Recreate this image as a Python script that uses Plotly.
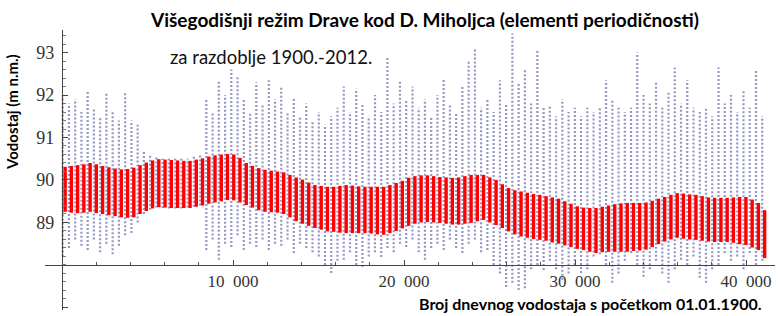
import plotly.graph_objects as go

# ---------------- data ----------------
years = list(range(1900, 2013))  # 113 hydrological years

# periodic element (red band): upper and lower level of the yearly oscillation [m n.m.]
red_top = [
    90.31, 90.33, 90.35, 90.37, 90.40, 90.37, 90.33, 90.30, 90.27, 90.25,
    90.26, 90.29, 90.35, 90.41, 90.46, 90.49, 90.48, 90.47, 90.46, 90.45,
    90.45, 90.48, 90.51, 90.55, 90.58, 90.60, 90.61, 90.60, 90.52, 90.40,
    90.33, 90.28, 90.24, 90.22, 90.20, 90.18, 90.12, 90.06, 90.01, 89.94,
    89.88, 89.86, 89.84, 89.84, 89.86, 89.88, 89.87, 89.85, 89.84, 89.84,
    89.84, 89.84, 89.88, 89.93, 89.98, 90.05, 90.09, 90.11, 90.11, 90.09,
    90.07, 90.06, 90.05, 90.06, 90.09, 90.12, 90.12, 90.12, 90.06, 90.00,
    89.90, 89.81, 89.76, 89.73, 89.70, 89.67, 89.65, 89.62, 89.59, 89.56,
    89.50, 89.44, 89.38, 89.35, 89.34, 89.34, 89.37, 89.40, 89.43, 89.45,
    89.46, 89.46, 89.46, 89.47, 89.51, 89.56, 89.60, 89.65, 89.69, 89.68,
    89.66, 89.65, 89.62, 89.59, 89.58, 89.58, 89.58, 89.59, 89.60, 89.60,
    89.54, 89.46, 89.29,
]
red_bottom = [
    89.25, 89.23, 89.22, 89.23, 89.25, 89.22, 89.20, 89.17, 89.15, 89.12,
    89.11, 89.12, 89.20, 89.27, 89.33, 89.36, 89.35, 89.34, 89.34, 89.34,
    89.34, 89.37, 89.40, 89.44, 89.47, 89.50, 89.53, 89.52, 89.47, 89.41,
    89.35, 89.29, 89.25, 89.24, 89.23, 89.20, 89.12, 89.03, 88.97, 88.92,
    88.87, 88.83, 88.79, 88.78, 88.76, 88.75, 88.75, 88.75, 88.75, 88.74,
    88.72, 88.71, 88.75, 88.80, 88.86, 88.92, 88.97, 89.00, 89.01, 89.00,
    88.99, 88.97, 88.95, 88.95, 88.97, 88.99, 89.03, 89.06, 89.00, 88.94,
    88.87, 88.79, 88.72, 88.67, 88.64, 88.61, 88.59, 88.57, 88.53, 88.50,
    88.46, 88.42, 88.38, 88.35, 88.31, 88.28, 88.30, 88.31, 88.31, 88.31,
    88.31, 88.33, 88.34, 88.36, 88.42, 88.49, 88.55, 88.60, 88.64, 88.62,
    88.60, 88.59, 88.57, 88.55, 88.54, 88.54, 88.54, 88.52, 88.49, 88.47,
    88.41, 88.35, 88.16,
]

# daily water levels (blue points): yearly maximum and minimum [m n.m.]
blue_max = [
    92.00, 91.80, 91.90, 91.60, 92.10, 91.70, 91.50, 92.05, 91.60, 91.40,
    92.07, 91.40, 91.30, 90.70, 90.60, 90.55, 90.50, 90.50, 90.50, 90.50,
    90.50, 90.55, 90.60, 91.90, 91.60, 92.35, 92.00, 92.60, 92.45, 91.90,
    91.60, 92.30, 91.80, 92.35, 91.90, 92.20, 91.60, 91.95, 91.50, 91.80,
    91.40, 91.60, 91.30, 91.50, 91.70, 92.20, 91.60, 92.15, 91.80, 91.50,
    92.00, 91.60, 92.90, 91.80, 92.35, 91.90, 92.20, 91.70, 91.90, 91.50,
    92.00, 92.40, 91.80, 91.60, 92.20, 92.80, 93.10, 91.70, 91.90, 91.60,
    92.35, 91.80, 93.45, 92.30, 92.60, 91.80, 93.05, 91.70, 91.75, 91.50,
    91.90, 91.60, 91.70, 91.50, 91.70, 91.60, 91.70, 92.35, 91.90, 91.70,
    91.60, 91.70, 93.00, 92.00, 91.80, 92.30, 91.70, 92.10, 92.65, 91.80,
    92.35, 91.70, 91.60, 91.70, 91.50, 92.65, 91.80, 92.00, 91.60, 92.10,
    91.70, 92.60, 91.50,
]
blue_min = [
    88.20, 88.40, 88.60, 88.45, 88.35, 88.60, 88.30, 88.50, 88.25, 88.45,
    88.70, 88.75, 89.00, 89.20, 89.30, 89.35, 89.34, 89.33, 89.33, 89.33,
    89.35, 89.37, 89.40, 88.35, 88.60, 88.12, 88.50, 88.42, 88.70, 88.35,
    88.50, 88.42, 88.60, 88.35, 88.50, 88.45, 88.60, 88.28, 88.50, 88.40,
    88.30, 88.20, 88.00, 87.81, 88.10, 88.12, 88.30, 88.00, 87.95, 88.20,
    88.30, 88.19, 88.40, 88.30, 88.50, 88.42, 88.60, 88.30, 88.12, 88.40,
    88.50, 88.35, 88.60, 88.40, 88.28, 88.50, 88.60, 88.30, 88.35, 88.00,
    87.80, 87.48, 87.58, 87.41, 87.45, 87.90, 88.00, 87.88, 88.10, 87.90,
    87.65, 87.80, 88.00, 87.81, 87.90, 88.20, 88.25, 88.00, 87.58, 87.80,
    88.10, 88.28, 88.00, 87.72, 87.90, 88.10, 87.80, 87.58, 87.90, 88.12,
    88.00, 88.20, 87.70, 87.58, 87.90, 88.00, 88.28, 88.10, 88.20, 87.90,
    88.28, 88.00, 88.10,
]

x_tick_vals = [10000, 20000, 30000, 40000]
x_tick_text = ["10\u2002000", "20\u2002000", "30\u2002000", "40\u2002000"]
y_tick_vals = [87, 89, 90, 91, 92, 93]
y_tick_text = ["87", "89", "90", "91", "92", "93"]

title_text = "Višegodišnji režim Drave kod D. Miholjca (elementi periodičnosti)"
subtitle_text = "za razdoblje 1900.-2012."
y_title = "Vodostaj (m n.m.)"
x_title = "Broj dnevnog vodostaja s početkom 01.01.1900."

DAYS_PER_YEAR = 365.25

# ---------------- build segments ----------------
bx, by = [], []
for i, _ in enumerate(years):
    d = i * DAYS_PER_YEAR + 40
    bx += [d, d, None]
    by += [blue_min[i], blue_max[i], None]

rx, ry = [], []
for i, _ in enumerate(years):
    d = (i + 0.5) * DAYS_PER_YEAR
    rx += [d, d, None]
    ry += [red_bottom[i], red_top[i], None]

fig = go.Figure()
fig.add_trace(go.Scatter(
    x=bx, y=by, mode="lines", hoverinfo="skip",
    line=dict(color="rgba(45,45,140,0.5)", width=2.2, dash="2px,2px"),
))
fig.add_trace(go.Scatter(
    x=rx, y=ry, mode="lines", hoverinfo="skip",
    line=dict(color="#ff0000", width=3.4),
))

Y0, Y1 = 86.94, 93.53
X0, X1 = -994, 41696
x_axis_pos = (88 - Y0) / (Y1 - Y0)
y_axis_pos = (0 - X0) / (X1 - X0)

fig.update_layout(
    width=781, height=316,
    margin=dict(l=45, r=6, t=30, b=6),
    paper_bgcolor="white", plot_bgcolor="white",
    showlegend=False,
    xaxis=dict(
        range=[X0, X1], anchor="free", position=x_axis_pos,
        showgrid=False, zeroline=False, showline=True, linecolor="#444", linewidth=1.3,
        tickmode="array", tickvals=x_tick_vals, ticktext=x_tick_text,
        ticks="inside", ticklen=5, tickcolor="#444",
        minor=dict(dtick=2000, tick0=0, ticks="inside", ticklen=3, tickcolor="#555"),
        tickfont=dict(family="Liberation Serif", size=17, color="#333"),
        automargin=False,
    ),
    yaxis=dict(
        range=[Y0, Y1], anchor="free", position=y_axis_pos,
        showgrid=False, zeroline=False, showline=True, linecolor="#444", linewidth=1.3,
        tickmode="array", tickvals=y_tick_vals, ticktext=y_tick_text,
        ticks="inside", ticklen=5, tickcolor="#444",
        minor=dict(dtick=0.2, tick0=87, ticks="inside", ticklen=3, tickcolor="#777"),
        tickfont=dict(family="Liberation Serif", size=18, color="#333"),
        ticklabelstandoff=4,
        automargin=False,
    ),
    annotations=[
        dict(text=title_text, xref="paper", yref="paper", x=(424 - 45) / 730, y=1 + 10 / 280,
             xanchor="center", yanchor="middle", showarrow=False,
             font=dict(family="Lato", size=19, color="black", weight="bold")),
        dict(text=subtitle_text, xref="paper", yref="paper", x=(168 - 45) / 730, y=1 - 27 / 280,
             xanchor="left", yanchor="middle", showarrow=False,
             font=dict(family="Lato", size=18.5, color="#111")),
        dict(text=y_title, xref="paper", yref="paper", x=(12 - 45) / 730, y=1 - 82 / 280,
             xanchor="center", yanchor="middle", showarrow=False, textangle=-90,
             font=dict(family="Lato", size=15, color="black", weight="bold")),
        dict(text=x_title, xref="paper", yref="paper", x=(590 - 45) / 730, y=1 - 273 / 280,
             xanchor="center", yanchor="middle", showarrow=False,
             font=dict(family="Lato", size=16, color="black", weight="bold")),
    ],
)

fig.write_html(
    "out.html",
    config={"displayModeBar": False},
    post_script="document.body.style.margin='0';document.body.style.overflow='hidden';",
)
